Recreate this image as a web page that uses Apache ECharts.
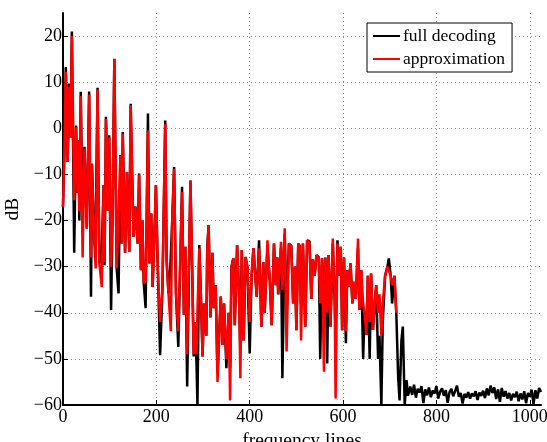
<!DOCTYPE html>
<html>
<head>
<meta charset="utf-8">
<script src="https://cdn.jsdelivr.net/npm/echarts@6/dist/echarts.min.js"></script>
<style>html,body{margin:0;padding:0;background:#fff}#c{width:547px;height:442px}</style>
</head>
<body>
<div id="c"></div>
<script>
// [frequency line, dB]
const fullDecoding = [
[0,-17],[3,-5],[6,13.3],[10,-7.3],[13,9.7],[16,-2],[19,21],[24,-27],[28,0.6],[31,-14],[33,-2.6],[35,-20],[38,7.9],[42,-20],[46,-4],[51,-21.7],[56,8],[60,-36.5],[62,-7.7],[67,-25],[70,-22],[74,8.8],[78,-29.3],[83,-27],[87,-12.3],[89,-29.7],[92,2.5],[96,-17.8],[99,-1.5],[103,-39.4],[106,-20],[110,15.1],[115,-30.4],[119,-35.8],[123,-5.8],[126,-25],[128,-0.8],[133,-27],[137,-9.5],[142,-26.8],[145,5.3],[151,-23.5],[155,-17],[160,-25],[163,-9.8],[167,-30.8],[170,-20],[173,-33.6],[177,-39],[182,3.2],[185,-29.3],[189,-18.5],[192,-34.4],[196,-22.5],[199,-12.3],[203,-30],[208,-49.2],[213,-35],[219,1.7],[222,-28.6],[226,-35.8],[230,-30],[234,-20],[238,-8.4],[242,-35.8],[247,-47.4],
[255,-12.7],[259,-40.5],[262,-25.7],[266,-56],[273,-11.3],[277,-32],[280,-49.5],[282,-42],[286,-51],[288,-60],[292,-25.3],[295,-35],[299,-49.5],[302,-38],[307,-45],[309,-25.7],[312,-21],[316,-41],[320,-27],[323,-39],[327,-34],[331,-53],[338,-36.5],[342,-47],[345,-38],[350,-52],[355,-40],[358,-52],[361,-30],[365,-28.2],[368,-42.7],[373,-25.3],[377,-35.8],[380,-48],[383,-26.4],[387,-46],[391,-27.9],[395,-30],[400,-48.8],[404,-32],[408,-26],[415,-36.5],[420,-24.3],[425,-43],[429,-29],[432,-40],[438,-26],[443,-33],[447,-42.7],[452,-25],[456,-34],[459,-28],[461,-36],[467,-26],[470,-54.2],[475,-23],[479,-40],[484,-25],[489,-25.5],[493,-38],[497,-30],[500,-43.8],[504,-25],
[507,-25.5],[510,-38],[514,-25],[519,-43],[523,-24.3],[528,-24.5],[532,-37],[535,-28.4],[539,-32],[543,-27.5],[548,-28],[551,-50],[555,-28.2],[559,-40],[562,-28],[566,-51],[569,-27.5],[573,-43],[578,-25],[582,-37],[584,-45],[588,-24.3],[591,-32],[595,-25.7],[598,-43.8],[602,-28],[606,-46.6],[609,-30.8],[612,-34.4],[616,-29.3],[620,-38],[623,-33.3],[627,-37],[632,-26],[635,-39.4],[639,-30.8],[643,-50],[646,-40],[650,-44.8],[653,-32],[657,-50],[660,-31.5],[664,-43.7],[668,-38],[671,-34],[675,-50],[678,-45],[682,-60],[685,-42],[690,-32],[695,-30],[698,-28.2],[702,-32],[705,-38],[710,-32],[714,-40],[718,-54],[721,-59],[725,-46],[728,-43],[732,-60],[736,-54.6],[739,-58],
[744,-56.0],[748,-57.8],[752,-55.6],[756,-58.4],[760,-56.5],[764,-57.3],[768,-55.9],[772,-59.6],[776,-56.6],[780,-57.9],[784,-56.2],[788,-58.3],[792,-56.9],[796,-57.5],[800,-55.9],[804,-58.6],[808,-57.1],[812,-56.4],[816,-58.0],[820,-56.8],[824,-59.5],[828,-57.2],[832,-56.5],[836,-58.1],[840,-57.0],[844,-55.8],[848,-58.2],[852,-57.4],[856,-59.7],[860,-57.6],[864,-58.4],[868,-57.2],[872,-58.6],[876,-57.5],[880,-58.1],[884,-57.0],[888,-58.9],[892,-57.3],[896,-58.0],[900,-56.9],[904,-58.5],[908,-56.4],[912,-57.9],[916,-55.8],[920,-57.4],[924,-56.2],[928,-58.7],[932,-56.6],[936,-59.3],[940,-56.3],[944,-58.2],[948,-57.0],[952,-58.6],[956,-57.4],[960,-59.0],[964,-57.6],[968,-58.3],[972,-57.1],[976,-59.2],[980,-57.5],[984,-58.8],[988,-57.0],[992,-59.6],[996,-57.4],[1000,-58.2],[1004,-56.7],[1008,-59.8],[1012,-56.8],[1016,-58.6],[1020,-56.3],[1024,-57.2]
];

const approximation = [
[0,-17],[3,-5],[6,12.2],[10,-7.3],[13,9],[16,-2],[19,20],[24,-15.6],[28,0.2],[31,-14],[33,-2.6],[35,-18],[38,7],[42,-28],[46,-4.5],[51,-21.7],[56,7.3],[60,-28],[62,-7.7],[67,-25],[70,-30.4],[74,8.4],[78,-29.3],[83,-34.4],[87,-12.3],[89,-29],[92,2],[96,-17.8],[99,-2],[103,-30],[106,-20],[110,15],[115,-30.4],[119,-30],[123,-6],[126,-25],[128,-1.2],[133,-27],[137,-9.5],[142,-26.8],[145,5],[151,-23.5],[155,-17],[160,-25],[163,-10],[167,-30.8],[170,-20],[173,-33.6],[177,-33],[182,-0.5],[185,-29.3],[189,-18.5],[192,-34.4],[196,-22.5],[199,-12.3],[203,-30],[208,-42],[213,-35],[219,1],[222,-28.6],[226,-35.8],[231,-44],[234,-20],[238,-8.8],[242,-35.8],[247,-44],
[255,-13.8],[259,-40.5],[262,-25.7],[266,-49],[273,-11.3],[277,-32],[280,-49],[282,-42],[286,-49],[288,-40],[292,-26],[295,-35],[299,-49.5],[302,-38],[307,-45],[309,-26.5],[312,-21],[316,-41],[320,-27],[323,-39],[327,-34],[331,-55],[338,-36.5],[342,-47],[345,-38],[350,-50],[355,-40],[358,-59],[361,-30],[365,-28.2],[368,-42.7],[373,-25.3],[377,-35.8],[380,-54.2],[383,-26.4],[387,-46],[391,-27.9],[395,-30],[400,-42],[404,-32],[408,-26],[415,-36.5],[420,-26],[425,-43],[429,-29],[432,-40],[438,-24.3],[443,-33],[447,-42.7],[452,-25],[456,-34],[459,-28],[461,-36],[467,-24.6],[470,-35],[475,-21.7],[479,-48.4],[484,-25],[489,-25.5],[493,-38],[497,-30],[500,-43.8],[504,-25],
[507,-25.5],[510,-46],[514,-25],[519,-43],[523,-24.3],[528,-25],[532,-37],[535,-28.4],[539,-32],[543,-27.5],[548,-28],[551,-38],[555,-28.2],[559,-52.8],[562,-28],[566,-40],[569,-27.5],[573,-43],[578,-23.9],[582,-37],[584,-58.6],[588,-25],[591,-32],[595,-25.7],[598,-43.8],[602,-28],[606,-44],[609,-30.8],[612,-34.4],[616,-29.3],[620,-38],[623,-33.3],[627,-37],[632,-23.9],[635,-39.4],[639,-30.8],[643,-38],[646,-40],[650,-44.8],[653,-32],[657,-42],[660,-31.5],[664,-43.7],[668,-38],[671,-34],[675,-40],[678,-36],[682,-45],[685,-38],[690,-32],[695,-30],[698,-30],[702,-32],[705,-34],[710,-32],[714,-40]
];

const seriesNames = ['full decoding', 'approximation'];
const xTicks = [0, 200, 400, 600, 800, 1000];
const yTicks = [-60, -50, -40, -30, -20, -10, 0, 10, 20];

const FONT = '"Liberation Serif", "DejaVu Serif", serif';
const chart = echarts.init(document.getElementById('c'), null, {renderer: 'canvas'});
const gridLine = {show: true, lineStyle: {color: '#888', type: [1, 3], width: 1}, showMinLine: false, showMaxLine: false};
chart.setOption({
  animation: false,
  backgroundColor: '#fff',
  grid: {left: 63, top: 13, right: 6, bottom: 37, containLabel: false, outerBoundsMode: 'none'},
  legend: {
    data: seriesNames,
    orient: 'vertical',
    left: 367, top: 23,
    padding: [4, 7, 4, 6],
    itemGap: 5,
    itemWidth: 27, itemHeight: 2,
    icon: 'rect',
    backgroundColor: '#fff',
    borderColor: '#000', borderWidth: 1,
    textStyle: {fontFamily: FONT, fontSize: 17.5, color: '#000', padding: [0, 0, 0, -2]}
  },
  xAxis: {
    type: 'value', min: 0, max: 1024, interval: 200,
    name: 'frequency lines', nameLocation: 'middle', nameGap: 22,
    nameTextStyle: {fontFamily: FONT, fontSize: 19.5, color: '#000'},
    axisLine: {show: true, onZero: false, lineStyle: {color: '#000', width: 2}},
    axisTick: {show: true, inside: true, length: 5, lineStyle: {color: '#000'}},
    axisLabel: {fontFamily: FONT, fontSize: 18, color: '#000', margin: 3, showMaxLabel: false,
      formatter: v => xTicks.includes(v) ? String(v) : ''},
    splitLine: gridLine
  },
  yAxis: {
    type: 'value', min: -60, max: 25, interval: 10,
    name: 'dB', nameLocation: 'middle', nameGap: 39, nameRotate: 90,
    nameTextStyle: {fontFamily: FONT, fontSize: 19.5, color: '#000'},
    axisLine: {show: true, onZero: false, lineStyle: {color: '#000', width: 2}},
    axisTick: {show: true, inside: true, length: 5, lineStyle: {color: '#000'}},
    axisLabel: {fontFamily: FONT, fontSize: 18, color: '#000', margin: 1, showMaxLabel: false,
      formatter: v => yTicks.includes(v) ? String(v).replace('-', '\u2212') : ''},
    splitLine: gridLine
  },
  series: [
    {name: seriesNames[0], type: 'line', data: fullDecoding, showSymbol: false, symbol: 'none',
     lineStyle: {color: '#000', width: 2.5}, itemStyle: {color: '#000'}, clip: true, z: 2},
    {name: seriesNames[1], type: 'line', data: approximation, showSymbol: false, symbol: 'none',
     lineStyle: {color: '#ff0000', width: 2.5}, itemStyle: {color: '#ff0000'}, clip: true, z: 3}
  ]
});
</script>
</body>
</html>
